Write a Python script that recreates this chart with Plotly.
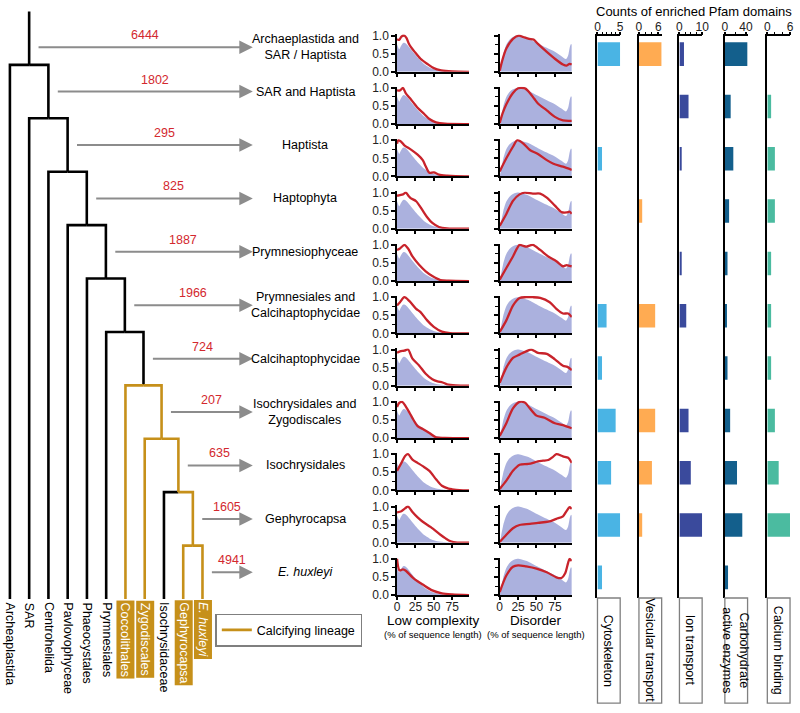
import plotly.graph_objects as go

# ---------------- data ----------------
leaves = ["Archeaplastida", "SAR", "Centrohelida", "Pavlovophyceae", "Phaeocystales",
          "Prymnesiales", "Coccolithales", "Zygodiscales", "Isochrysidaceae",
          "Gephyrocapsa", "<i>E. huxleyi</i>"]
leaf_calcifying = [False, False, False, False, False, False, True, True, False, True, True]
# internal node k joins leaf k with node k+1 (last node joins the last two leaves)
node_calcifying = [False, False, False, False, False, False, False, True, True, True]

clades = ["Archaeplastida and<br>SAR / Haptista", "SAR and Haptista", "Haptista", "Haptophyta",
          "Prymnesiophyceae", "Prymnesiales and<br>Calcihaptophycidae", "Calcihaptophycidae",
          "Isochrysidales and<br>Zygodiscales", "Isochrysidales", "Gephyrocapsa", "<i>E. huxleyi</i>"]
new_genes = [6444, 1802, 295, 825, 1887, 1966, 724, 207, 635, 1605, 4941]

lc_background = [(0, 0.76), (1.5, 0.68), (3, 0.62), (5, 0.7), (8, 0.79), (10, 0.8), (13, 0.76),
                 (18, 0.64), (25, 0.46), (31, 0.33), (37, 0.21), (44, 0.12), (50, 0.07),
                 (60, 0.025), (75, 0.008), (98, 0)]
dis_background = [(0, 0), (2, 0.2), (5, 0.5), (9, 0.75), (13, 0.88), (18, 0.96), (24, 1.0),
                  (30, 0.98), (39, 0.92), (52, 0.78), (64, 0.66), (75, 0.55), (84, 0.43),
                  (90, 0.35), (93, 0.45), (95.5, 0.7), (97, 0.77), (98, 0.75)]

lc_clade = [
    [(0, 0.9), (3, 0.88), (6, 0.97), (10, 1.0), (13, 0.93), (16, 0.78), (19, 0.68), (24, 0.55), (32, 0.36), (41, 0.22), (50, 0.1), (60, 0.04), (75, 0.01), (98, 0)],
    [(0, 0.93), (4, 0.93), (8, 1.0), (12, 0.85), (19, 0.68), (28, 0.45), (37, 0.28), (44, 0.14), (53, 0.05), (65, 0.01), (98, 0)],
    [(0, 0.9), (2, 1.0), (6, 0.95), (10, 0.86), (19, 0.74), (28, 0.6), (35, 0.45), (39, 0.28), (44, 0.1), (50, 0.11), (57, 0.05), (68, 0.02), (80, 0.005), (98, 0)],
    [(0, 0.91), (4, 0.93), (8, 0.95), (12, 1.0), (16, 0.9), (19, 0.84), (26, 0.76), (35, 0.5), (41, 0.32), (48, 0.16), (57, 0.05), (68, 0.01), (98, 0)],
    [(0, 0.86), (4, 0.9), (10, 1.0), (15, 0.9), (21, 0.68), (30, 0.45), (39, 0.27), (48, 0.14), (59, 0.03), (70, 0.01), (98, 0)],
    [(0, 0.77), (4, 0.86), (10, 1.0), (17, 0.89), (26, 0.68), (32, 0.59), (41, 0.36), (50, 0.18), (61, 0.05), (72, 0.01), (98, 0)],
    [(0, 0.91), (4, 0.95), (10, 0.97), (15, 1.0), (21, 0.75), (30, 0.56), (39, 0.33), (48, 0.18), (55, 0.12), (62, 0.09), (68, 0.04), (80, 0.01), (98, 0)],
    [(0, 0.86), (3, 0.97), (7, 1.0), (12, 0.87), (17, 0.7), (21, 0.55), (28, 0.33), (35, 0.25), (44, 0.14), (53, 0.02), (65, 0.005), (98, 0)],
    [(0, 0.54), (6, 0.76), (11, 0.95), (15, 1.0), (21, 0.85), (28, 0.76), (35, 0.67), (44, 0.54), (53, 0.31), (61, 0.13), (70, 0.05), (75, 0.03), (85, 0.005), (98, 0)],
    [(0, 0.84), (6, 0.87), (11, 0.95), (15, 1.0), (21, 0.85), (28, 0.7), (35, 0.58), (46, 0.43), (59, 0.22), (66, 0.12), (73, 0.04), (82, 0.005), (98, 0)],
    [(0, 1.0), (3.5, 0.68), (8, 0.71), (12, 0.67), (21, 0.49), (28, 0.38), (35, 0.29), (48, 0.13), (61, 0.05), (75, 0.02), (98, 0)],
]
dis_clade = [
    [(0, 0.03), (4, 0.35), (9, 0.64), (18, 0.91), (26, 1.0), (32, 0.96), (40, 0.91), (46, 0.89), (52, 0.77), (64, 0.55), (75, 0.36), (86, 0.2), (91, 0.17), (95, 0.22), (98, 0.2)],
    [(0, 0.03), (4, 0.3), (9, 0.55), (18, 0.86), (25, 0.99), (30, 1.0), (35, 0.98), (41, 0.86), (47, 0.7), (52, 0.57), (64, 0.38), (75, 0.2), (86, 0.1), (98, 0.09)],
    [(0, 0.14), (9, 0.5), (18, 0.82), (24, 1.0), (32, 0.91), (41, 0.73), (52, 0.62), (64, 0.45), (73, 0.35), (86, 0.27), (98, 0.18)],
    [(0, 0.08), (9, 0.41), (18, 0.77), (27, 0.95), (34, 1.0), (45, 0.97), (55, 0.97), (64, 0.86), (75, 0.64), (84, 0.46), (91, 0.45), (95, 0.47), (98, 0.41)],
    [(0, 0.04), (9, 0.36), (18, 0.68), (27, 1.0), (32, 0.97), (36, 0.95), (45, 1.0), (55, 0.86), (66, 0.68), (77, 0.55), (86, 0.41), (91, 0.44), (95, 0.42), (98, 0.41)],
    [(0, 0.04), (9, 0.36), (18, 0.77), (27, 0.98), (36, 1.0), (45, 1.0), (55, 0.98), (68, 0.86), (77, 0.68), (86, 0.55), (93, 0.55), (98, 0.45)],
    [(0, 0.08), (9, 0.5), (18, 0.77), (27, 0.86), (36, 0.95), (43, 1.0), (52, 0.91), (64, 0.88), (75, 0.73), (86, 0.55), (92, 0.52), (98, 0.43)],
    [(0, 0.06), (9, 0.41), (18, 0.82), (27, 1.0), (34, 0.98), (41, 0.82), (50, 0.62), (61, 0.56), (75, 0.41), (86, 0.36), (98, 0.27)],
    [(0, 0.04), (9, 0.27), (18, 0.54), (27, 0.71), (39, 0.73), (52, 0.8), (59, 0.82), (66, 0.84), (72, 0.92), (77, 1.0), (86, 0.94), (93, 0.9), (98, 0.76)],
    [(0, 0.02), (9, 0.22), (18, 0.4), (27, 0.49), (41, 0.52), (52, 0.55), (66, 0.58), (77, 0.66), (86, 0.73), (91, 0.88), (95, 0.98), (98, 0.93)],
    [(0, 0.08), (9, 0.54), (18, 0.78), (25, 0.82), (36, 0.79), (50, 0.73), (64, 0.63), (77, 0.49), (84, 0.47), (89, 0.6), (93, 0.89), (95, 1.0), (98, 0.94)],
]
density_ticks = [0, 25, 50, 75]

categories = ["Cytoskeleton", "Vesicular transport", "Ion transport",
              "Carbohydrate<br>active enzymes", "Calcium binding"]
cytoskeleton = [5, 0, 1, 0, 0, 2, 1, 4, 3, 5, 1]
vesicular = [7, 0, 0, 1, 0, 5, 0, 5, 4, 1, 0]
ion_transport = [2, 4, 1, 0, 1, 3, 0, 4, 5, 10, 0]
cazymes = [43, 11, 16, 8, 5, 4, 5, 10, 23, 33, 6]
calcium = [0, 1, 2, 2, 1, 1, 1, 2, 3, 6, 0]
count_ticks = [[0, 5], [0, 6], [0, 10], [0, 40], [0, 6]]

# ---------------- styling / layout helpers ----------------
W, H = 800, 713
FONT = "Liberation Sans, Arial, sans-serif"
GOLD = "#c6901a"
RED = "#c8232b"
FILL = "#abb1de"
GREY = "#8c8c8c"
bar_colors = ["#4ab4e4", "#ffab52", "#3a4a9c", "#135f8c", "#4bbba0"]
bar_px = [(602, 625, 5), (644, 667, 7), (685, 708, 10), (731, 754, 43), (774, 797, 6)]
bar_minor = [1, 2, 2.5, 20, 2]


def fx(px):
    return px / W


def fy(px):
    return 1 - px / H


def supports_standoff():
    try:
        go.layout.XAxis(ticklabelstandoff=-3)
        return True
    except Exception:
        return False


STANDOFF = supports_standoff()

fig = go.Figure()
layout = dict(width=W, height=H, margin=dict(l=0, r=0, t=0, b=0),
              paper_bgcolor="white", plot_bgcolor="rgba(0,0,0,0)",
              font=dict(family=FONT, size=12, color="black"), showlegend=True)
annotations = []
shapes = []

# ---------------- tree ----------------
n = len(leaves)
node_x = [0.0] * (n - 1)
cx = float(n - 1)
for k in range(n - 2, -1, -1):
    node_x[k] = (k + cx) / 2
    cx = node_x[k]
leaf_y = n - 1

segs = {False: ([], []), True: ([], [])}


def add_path(pts, gold):
    xs, ys = segs[gold]
    for p in pts:
        xs.append(p[0]); ys.append(p[1])
    xs.append(None); ys.append(None)


add_path([(node_x[0], -1), (node_x[0], 0)], False)
for k in range(n - 1):
    add_path([(node_x[k], k), (k, k), (k, leaf_y)], leaf_calcifying[k])
    if k < n - 2:
        add_path([(node_x[k], k), (node_x[k + 1], k), (node_x[k + 1], k + 1)], node_calcifying[k + 1])
    else:
        add_path([(node_x[k], k), (n - 1, k), (n - 1, leaf_y)], leaf_calcifying[n - 1])

fig.add_trace(go.Scatter(x=segs[False][0], y=segs[False][1], mode="lines",
                         line=dict(color="black", width=2.6), showlegend=False,
                         hoverinfo="skip", xaxis="x", yaxis="y"))
fig.add_trace(go.Scatter(x=segs[True][0], y=segs[True][1], mode="lines",
                         line=dict(color=GOLD, width=2.6), name="Calcifying lineage",
                         showlegend=True, hoverinfo="skip", xaxis="x", yaxis="y"))

px_per_leaf, leaf0_px = 19.5, 7
lvl_px, lvl0_px = 54.4, 60
layout["xaxis"] = dict(domain=[0, fx(380)], range=[-leaf0_px / px_per_leaf, (380 - leaf0_px) / px_per_leaf],
                       visible=False, fixedrange=True)
layout["yaxis"] = dict(domain=[0, 1], range=[(H - lvl0_px) / lvl_px, -lvl0_px / lvl_px],
                       visible=False, fixedrange=True)

for i, name in enumerate(leaves):
    boxed = leaf_calcifying[i] and i >= 6
    annotations.append(dict(x=i, y=leaf_y, xref="x", yref="y", text=name, showarrow=False,
                            textangle=90, xanchor="center", yanchor="top", yshift=-1,
                            font=dict(size=12.5, color="white" if boxed else "black"),
                            bgcolor=GOLD if boxed else None, borderpad=1.5))

tip_x = (253 - leaf0_px) / px_per_leaf
label_x = (306 - leaf0_px) / px_per_leaf
for r in range(n):
    lvl = max(r - 0.5, -0.33)
    start = (node_x[r] if r < n - 1 else n - 1) + 8 / px_per_leaf
    annotations.append(dict(x=tip_x, y=lvl, ax=start, ay=lvl, xref="x", yref="y", axref="x", ayref="y",
                            text="", showarrow=True, arrowhead=2, arrowsize=1.35, arrowwidth=2,
                            arrowcolor=GREY, standoff=0, startstandoff=0))
    annotations.append(dict(x=(start + tip_x) / 2, y=lvl, xref="x", yref="y", text=str(new_genes[r]),
                            showarrow=False, xanchor="center", yanchor="middle", yshift=12,
                            font=dict(size=12.5, color="#d3282e")))
    annotations.append(dict(x=label_x, y=lvl, xref="x", yref="y", text=clades[r], showarrow=False,
                            xanchor="center", yanchor="middle", align="center",
                            font=dict(size=12.5, color="black")))

# ---------------- density panels ----------------
ax_style = dict(showline=True, linecolor="black", linewidth=1.6, ticks="outside", ticklen=4,
                tickwidth=1.5, tickcolor="black", showgrid=False, zeroline=False, fixedrange=True,
                tickfont=dict(size=12, color="#222"))


def split(pairs):
    return [p[0] for p in pairs], [p[1] for p in pairs]


for col, (bg, curves, x0, x1) in enumerate([(lc_background, lc_clade, 399, 472),
                                           (dis_background, dis_clade, 503, 576)]):
    for i in range(n):
        idx = 2 + col * n + i
        xa, ya = f"x{idx}", f"y{idx}"
        bx, by = split(bg)
        fig.add_trace(go.Scatter(x=bx, y=by, mode="lines", fill="tozeroy", fillcolor=FILL,
                                 line=dict(width=0, shape="spline", smoothing=0.7, color=FILL),
                                 showlegend=False, hoverinfo="skip", xaxis=xa, yaxis=ya))
        rx, ry = split(curves[i])
        fig.add_trace(go.Scatter(x=rx, y=ry, mode="lines",
                                 line=dict(width=2.3, shape="spline", smoothing=0.8, color=RED),
                                 showlegend=False, hoverinfo="skip", xaxis=xa, yaxis=ya))
        top = 30 + 53.3 * i
        bot = top + 37
        xax = dict(ax_style, domain=[fx(x0), fx(x1)], anchor=ya, range=[0, 98], ticklen=3,
                   tickvals=density_ticks, showticklabels=(i == n - 1))
        if STANDOFF:
            xax["ticklabelstandoff"] = -3
        layout[f"xaxis{idx}"] = xax
        layout[f"yaxis{idx}"] = dict(ax_style, domain=[fy(bot), fy(top - 1)], anchor=xa, range=[0, 1.03],
                                     tickvals=[0, 0.5, 1], ticktext=["0.0", "0.5", "1.0"],
                                     showticklabels=(col == 0),
                                     minor=dict(tickvals=[0.25, 0.75], ticks="outside", ticklen=3,
                                                tickwidth=1.3, tickcolor="black"))

for cxp, title in [(435.5, "Low complexity"), (540, "Disorder")]:
    annotations.append(dict(x=fx(cxp), y=fy(626), xref="paper", yref="paper", text=title,
                            showarrow=False, xanchor="center", yanchor="middle", font=dict(size=13.5)))
    annotations.append(dict(x=fx(cxp), y=fy(640), xref="paper", yref="paper",
                            text="(% of sequence length)", showarrow=False,
                            xanchor="center", yanchor="middle", font=dict(size=9.5)))

# ---------------- bars ----------------
bar_values = [cytoskeleton, vesicular, ion_transport, cazymes, calcium]
rows = list(range(n))
for j, vals in enumerate(bar_values):
    idx = 2 + 2 * n + j
    xa, ya = f"x{idx}", f"y{idx}"
    fig.add_trace(go.Bar(x=vals, y=rows, orientation="h", width=0.45,
                         marker=dict(color=bar_colors[j], line=dict(width=0)),
                         showlegend=False, hoverinfo="skip", xaxis=xa, yaxis=ya))
    x0, x1, xmax = bar_px[j]
    xax = dict(ax_style, domain=[fx(x0), fx(x1)], anchor=ya, side="top",
               range=[0, xmax], tickvals=count_ticks[j], ticklen=3,
               minor=dict(dtick=bar_minor[j], ticks="outside", ticklen=3,
                          tickwidth=1.3, tickcolor="black"))
    if STANDOFF:
        xax["ticklabelstandoff"] = -4
    layout[f"xaxis{idx}"] = xax
    layout[f"yaxis{idx}"] = dict(domain=[fy(603), fy(31)], anchor=xa,
                                 range=[(603 - 49) / 53.3, (31 - 49) / 53.3],
                                 showline=True, linecolor="black", linewidth=1.6, ticks="",
                                 showticklabels=False, showgrid=False, zeroline=False, fixedrange=True)
    shapes.append(dict(type="rect", xref=f"{xa} domain", yref="paper", x0=0, x1=1,
                       y0=fy(710), y1=fy(603), line=dict(color="#808080", width=1.3)))
    annotations.append(dict(x=0.5, y=fy(656.5), xref=f"{xa} domain", yref="paper", text=categories[j],
                            showarrow=False, textangle=90, xanchor="center", yanchor="middle",
                            font=dict(size=12.5)))

annotations.append(dict(x=fx(700), y=fy(6), xref="paper", yref="paper",
                        text="Counts of enriched Pfam domains", showarrow=False,
                        xanchor="center", yanchor="middle", font=dict(size=13)))

layout["legend"] = dict(x=fx(215), y=fy(619), xanchor="left", yanchor="top",
                        bordercolor="#7f7f7f", borderwidth=1.5, bgcolor="white",
                        font=dict(size=12.5), itemwidth=30, tracegroupgap=0)
layout["annotations"] = annotations
layout["shapes"] = shapes
fig.update_layout(**layout)

pin_page = ("document.documentElement.style.overflow='hidden';"
            "document.body.style.margin='0';document.body.style.overflow='hidden';"
            "var d=document.querySelector('.plotly-graph-div');"
            "d.style.position='fixed';d.style.left='0px';d.style.top='0px';")
fig.write_html("out.html", config={"displayModeBar": False}, post_script=pin_page)
